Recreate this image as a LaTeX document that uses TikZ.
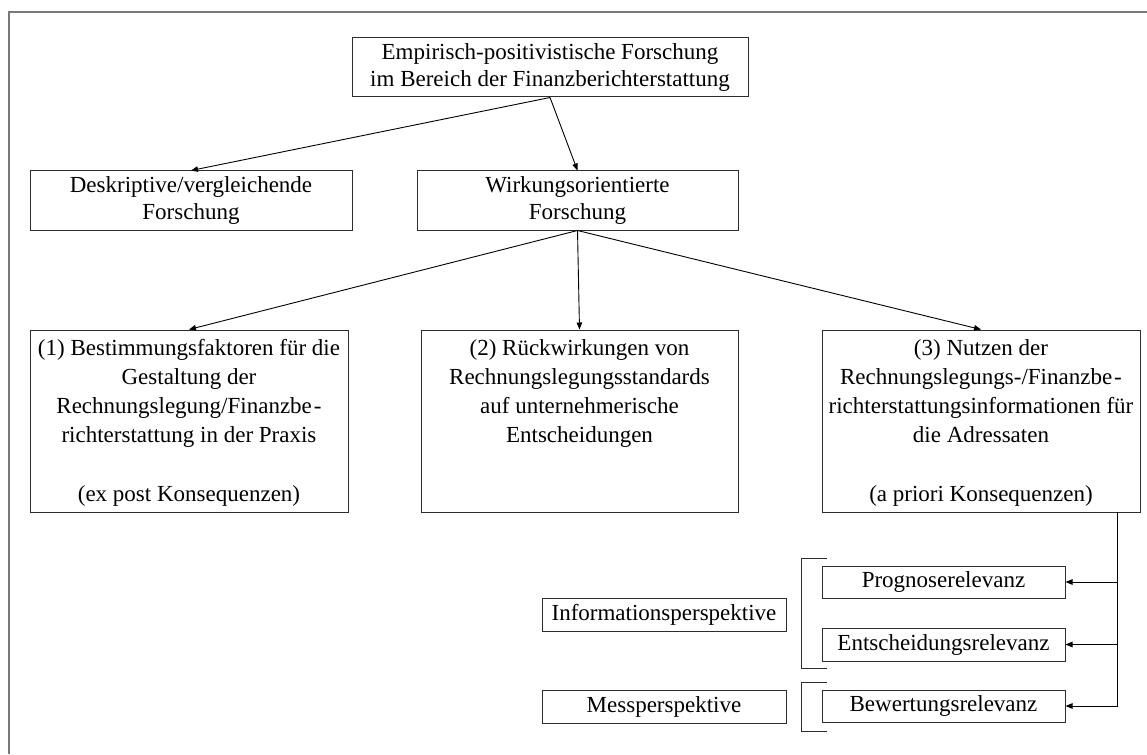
\documentclass[tikz,border=0pt]{standalone}
\usepackage{fontspec}
\setmainfont{Liberation Serif}
\usetikzlibrary{arrows.meta}

\definecolor{boxc}{RGB}{45,45,45}
\definecolor{framec}{RGB}{120,120,120}

% text sizes used in the chart
\newcommand{\txtA}{\fontsize{23pt}{27pt}\selectfont}
\newcommand{\txtB}{\fontsize{23pt}{29.3pt}\selectfont}
% top-aligned, centred text block of fixed size
\newcommand{\toptext}[3]{\parbox[c][#2][t]{#1}{\txtB\centering\rule{0pt}{25pt}#3}}

\begin{document}
\begin{tikzpicture}[x=1pt,y=-1pt,
  box/.style={draw=boxc, line width=1pt, inner sep=0pt, rectangle, align=center, font=\txtA},
  conn/.style={draw=black, line width=0.9pt, -{Triangle[length=7pt,width=5.5pt]}},
  bracket/.style={draw=boxc, line width=1pt},
  frameline/.style={draw=framec, line width=1.6pt}]
\useasboundingbox (0,0) rectangle (1147,754);
\fill[white] (0,0) rectangle (1147,754);

% outer frame (top and left edges)
\draw[frameline] (9,754) -- (9,12) -- (1147,12);

% upper levels
\node[box, minimum width=396pt, minimum height=59pt] (top) at (550,67.5)
  {Empirisch-positivistische Forschung\\im Bereich der Finanzberichterstattung};
\node[box, minimum width=322pt, minimum height=59pt] (desk) at (191,200.5)
  {Deskriptive/vergleichende\\Forschung};
\node[box, minimum width=321pt, minimum height=59pt] (wirk) at (577.5,200.5)
  {Wirkungsorientierte\\Forschung};

% research fields
\node[box] (b1) at (189,421) {\toptext{318pt}{182pt}{(1) Bestimmungsfaktoren f\"ur die\\Gestaltung der\\Rechnungslegung/Finanzbe\kern2pt-\\richterstattung in der Praxis\\[29.3pt](ex post Konsequenzen)}};
\node[box] (b2) at (579.5,421) {\toptext{317pt}{182pt}{(2) R\"uckwirkungen von\\Rechnungslegungsstandards\\auf unternehmerische\\Entscheidungen}};
\node[box] (b3) at (981,421) {\toptext{318pt}{182pt}{(3) Nutzen der\\Rechnungslegungs-/Finanzbe\kern2pt-\\richterstattungsinformationen f\"ur\\die Adressaten\\[29.3pt](a priori Konsequenzen)}};

% relevance types
\node[box, minimum width=243pt, minimum height=32pt] (prog) at (943.5,582) {Prognoserelevanz};
\node[box, minimum width=243pt, minimum height=33pt] (ent) at (943.5,644.5) {Entscheidungsrelevanz};
\node[box, minimum width=243pt, minimum height=32pt] (bew) at (943.5,706) {Bewertungsrelevanz};

% perspectives
\node[box, minimum width=244pt, minimum height=33pt] (info) at (664,614.5) {Informationsperspektive};
\node[box, minimum width=244pt, minimum height=33pt] (mess) at (664,706.5) {Messperspektive};

% brackets grouping the relevance types
\draw[bracket] (827,558) -- (801,558) -- (801,668) -- (827,668);
\draw[bracket] (827,682) -- (801,682) -- (801,731) -- (827,731);

% connectors
\draw[conn] (top.south) -- (desk.north);
\draw[conn] (top.south) -- (wirk.north);
\draw[conn] (wirk.south) -- (b1.north);
\draw[conn] (wirk.south) -- (b2.north);
\draw[conn] (wirk.south) -- (b3.north);

\coordinate (trunk) at (1117,512);
\draw[conn] (trunk) -- (trunk |- bew.east) -- (bew.east);
\draw[conn] (trunk |- prog.east) -- (prog.east);
\draw[conn] (trunk |- ent.east) -- (ent.east);
\end{tikzpicture}
\end{document}
